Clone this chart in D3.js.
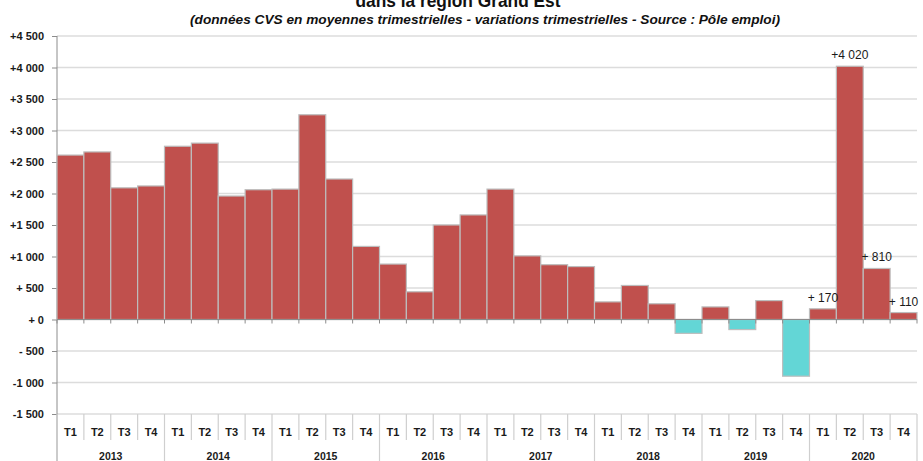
<!DOCTYPE html>
<html>
<head>
  <meta charset="utf-8">
  <title></title>
  <script src="https://cdn.jsdelivr.net/npm/d3@7"></script>
</head>
<style>
  body { margin: 0; background: #fff; }
  svg { display: block; font-family: "Liberation Sans", Arial, sans-serif; }
</style>
<body>
  <div id="chart"></div>
  <script>
    var years = [2013, 2014, 2015, 2016, 2017, 2018, 2019, 2020];
    var quarters = ['T1', 'T2', 'T3', 'T4'];
    // variations trimestrielles, one value per quarter, 2013 T1 -> 2020 T4
    var values = [
      2610, 2660, 2090, 2120,
      2750, 2800, 1960, 2060,
      2070, 3250, 2230, 1160,
      880, 440, 1500, 1660,
      2070, 1010, 870, 840,
      280, 540, 250, -220,
      200, -160, 300, -900,
      170, 4020, 810, 110
    ];
    var labelledQuarters = [28, 29, 30, 31];
    var yTicks = d3.range(-1500, 4501, 500);

    var title = 'dans la région Grand Est';
    var subtitle = '(données CVS en moyennes trimestrielles - variations trimestrielles - Source : Pôle emploi)';

    var width = 923, height = 461;
    var plotLeft = 57, plotRight = 917, plotTop = 36, plotBottom = 414;

    // Excel-like "+# ##0" format
    function fmt(v) {
      var a = Math.abs(v);
      var s = a >= 1000 ? Math.floor(a / 1000) + ' ' + d3.format('03d')(a % 1000) : ' ' + a;
      return (v < 0 ? '-' : '+') + s;
    }

    var svg = d3.select('#chart').append('svg')
      .attr('width', width).attr('height', height);

    var x = d3.scaleBand().domain(d3.range(values.length)).range([plotLeft, plotRight]).padding(0);
    var y = d3.scaleLinear().domain([-1500, 4500]).range([plotBottom, plotTop]);

    // gridlines
    svg.append('g').selectAll('line').data(yTicks).join('line')
      .attr('x1', plotLeft).attr('x2', plotRight)
      .attr('y1', function (d) { return y(d); }).attr('y2', function (d) { return y(d); })
      .attr('stroke', '#dcdcdc').attr('stroke-width', 1.3);

    // y axis
    var yAxis = svg.append('g').attr('transform', 'translate(' + plotLeft + ',0)')
      .call(d3.axisLeft(y).tickValues(yTicks).tickFormat(fmt).tickSize(5).tickPadding(8));
    yAxis.select('.domain').remove();
    yAxis.selectAll('line').attr('stroke', '#8c8c8c');
    yAxis.selectAll('text').attr('font-size', 11).attr('font-weight', 'bold').attr('fill', '#1a1a1a')
      .style('white-space', 'pre');
    svg.append('line').attr('x1', plotLeft).attr('x2', plotLeft).attr('y1', plotTop).attr('y2', height)
      .attr('stroke', '#8c8c8c').attr('stroke-width', 1);

    // bars
    svg.append('g').selectAll('rect').data(values).join('rect')
      .attr('x', function (d, i) { return x(i); })
      .attr('width', x.bandwidth())
      .attr('y', function (d) { return y(Math.max(0, d)); })
      .attr('height', function (d) { return Math.abs(y(d) - y(0)); })
      .attr('fill', function (d) { return d < 0 ? '#63d6d6' : '#c0504d'; })
      .attr('stroke', '#bdbdbd').attr('stroke-width', 1.2);

    // zero line with ticks
    var zero = svg.append('g').attr('transform', 'translate(0,' + y(0) + ')');
    zero.append('line').attr('x1', plotLeft).attr('x2', plotRight).attr('stroke', '#8c8c8c').attr('stroke-width', 1.2);
    zero.selectAll('.tk').data(d3.range(values.length + 1)).join('line')
      .attr('class', 'tk')
      .attr('x1', function (d) { return plotLeft + d * x.step(); })
      .attr('x2', function (d) { return plotLeft + d * x.step(); })
      .attr('y1', 0).attr('y2', 4)
      .attr('stroke', '#8c8c8c');

    // value labels
    svg.append('g').selectAll('text').data(labelledQuarters).join('text')
      .attr('x', function (i) { return x(i) + x.bandwidth() / 2; })
      .attr('y', function (i) { return y(values[i]) - 7; })
      .attr('text-anchor', 'middle')
      .attr('font-size', 12).attr('fill', '#1a1a1a')
      .style('white-space', 'pre')
      .text(function (i) { return fmt(values[i]); });

    // category axis: quarters and years
    var cat = svg.append('g');
    cat.selectAll('.qsep').data(d3.range(values.length + 1)).join('line')
      .attr('class', 'qsep')
      .attr('x1', function (d) { return plotLeft + d * x.step(); })
      .attr('x2', function (d) { return plotLeft + d * x.step(); })
      .attr('y1', plotBottom)
      .attr('y2', function (d) { return d % 4 === 0 ? height : 440; })
      .attr('stroke', '#cfcfcf').attr('stroke-width', 1.2);
    cat.selectAll('.q').data(values).join('text')
      .attr('class', 'q')
      .attr('x', function (d, i) { return x(i) + x.bandwidth() / 2; })
      .attr('y', 436)
      .attr('text-anchor', 'middle')
      .attr('font-size', 11).attr('font-weight', 'bold').attr('fill', '#1a1a1a')
      .text(function (d, i) { return quarters[i % 4]; });
    cat.selectAll('.yr').data(years).join('text')
      .attr('class', 'yr')
      .attr('x', function (d, i) { return plotLeft + (i * 4 + 2) * x.step(); })
      .attr('y', 460)
      .attr('text-anchor', 'middle')
      .attr('font-size', 10.5).attr('font-weight', 'bold').attr('fill', '#1a1a1a')
      .text(function (d) { return d; });

    // titles
    svg.append('text').attr('x', 458).attr('y', 7).attr('text-anchor', 'middle')
      .attr('font-size', 18).attr('font-weight', 'bold').attr('fill', '#111')
      .attr('textLength', 205).attr('lengthAdjust', 'spacingAndGlyphs')
      .text(title);
    svg.append('text').attr('x', 485).attr('y', 24).attr('text-anchor', 'middle')
      .attr('font-size', 12).attr('font-weight', 'bold').attr('font-style', 'italic').attr('fill', '#111')
      .attr('textLength', 590).attr('lengthAdjust', 'spacingAndGlyphs')
      .text(subtitle);
  </script>
</body>
</html>
